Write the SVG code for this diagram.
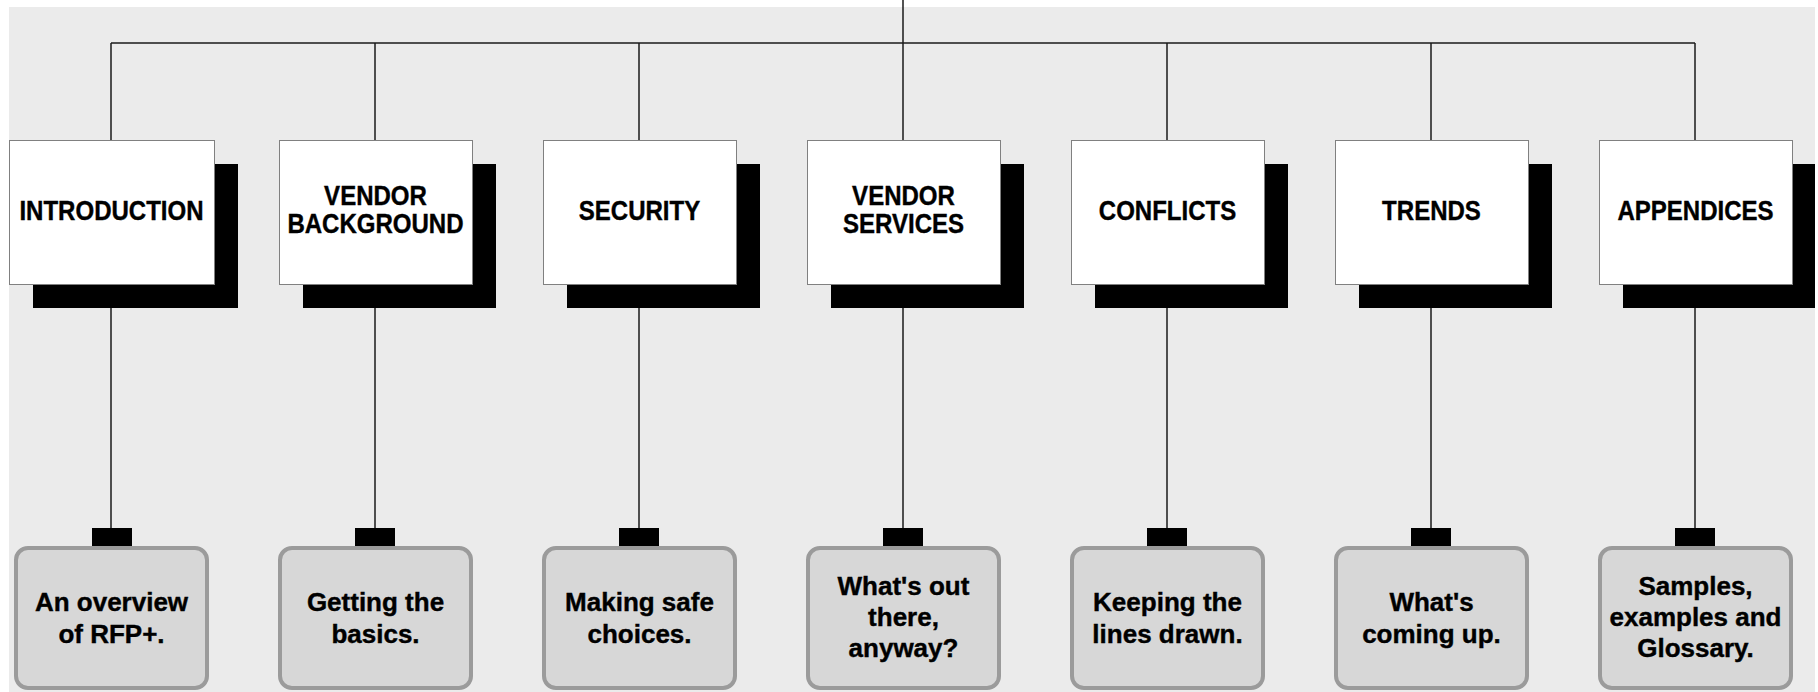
<svg xmlns="http://www.w3.org/2000/svg" width="1818" height="692" viewBox="0 0 1818 692">
<style>
.bg{fill:#ebebeb}
.shadow{fill:#000}
.top{fill:#fff;stroke:#808080;stroke-width:1}
.bot{fill:#d7d7d7;stroke:#9b9b9b;stroke-width:4}
.tab{fill:#000}
.conn{stroke:#1a1a1a;stroke-width:1.5;fill:none}
.tt{font-family:"Liberation Sans",Arial,Helvetica,sans-serif;font-weight:bold;font-size:27px;fill:#000;stroke:#000;stroke-width:0.4;text-anchor:middle}
.bt{font-family:"Liberation Sans",Arial,Helvetica,sans-serif;font-weight:bold;font-size:26px;fill:#000;stroke:#000;stroke-width:0.4;text-anchor:middle}
</style>
<rect class="bg" x="9" y="7" width="1806" height="685"/>
<g id="connectors">
<line class="conn" x1="903" y1="0" x2="903" y2="43"/>
<line class="conn" x1="111" y1="43" x2="1695" y2="43"/>
<line class="conn" x1="111" y1="43" x2="111" y2="528"/>
<line class="conn" x1="375" y1="43" x2="375" y2="528"/>
<line class="conn" x1="639" y1="43" x2="639" y2="528"/>
<line class="conn" x1="903" y1="43" x2="903" y2="528"/>
<line class="conn" x1="1167" y1="43" x2="1167" y2="528"/>
<line class="conn" x1="1431" y1="43" x2="1431" y2="528"/>
<line class="conn" x1="1695" y1="43" x2="1695" y2="528"/>
</g>
<g id="introduction">
<rect class="shadow" x="33" y="164" width="205" height="144"/>
<rect class="top" x="9.5" y="140.5" width="205" height="144"/>
<text class="tt" transform="translate(111.5,220) scale(0.89,1)">INTRODUCTION</text>
</g>
<g id="vendor-background">
<rect class="shadow" x="303" y="164" width="193" height="144"/>
<rect class="top" x="279.5" y="140.5" width="193" height="144"/>
<text class="tt" transform="translate(375.5,205) scale(0.89,1)">VENDOR</text>
<text class="tt" transform="translate(375.5,233) scale(0.89,1)">BACKGROUND</text>
</g>
<g id="security">
<rect class="shadow" x="567" y="164" width="193" height="144"/>
<rect class="top" x="543.5" y="140.5" width="193" height="144"/>
<text class="tt" transform="translate(639.5,220) scale(0.89,1)">SECURITY</text>
</g>
<g id="vendor-services">
<rect class="shadow" x="831" y="164" width="193" height="144"/>
<rect class="top" x="807.5" y="140.5" width="193" height="144"/>
<text class="tt" transform="translate(903.5,205) scale(0.89,1)">VENDOR</text>
<text class="tt" transform="translate(903.5,233) scale(0.89,1)">SERVICES</text>
</g>
<g id="conflicts">
<rect class="shadow" x="1095" y="164" width="193" height="144"/>
<rect class="top" x="1071.5" y="140.5" width="193" height="144"/>
<text class="tt" transform="translate(1167.5,220) scale(0.89,1)">CONFLICTS</text>
</g>
<g id="trends">
<rect class="shadow" x="1359" y="164" width="193" height="144"/>
<rect class="top" x="1335.5" y="140.5" width="193" height="144"/>
<text class="tt" transform="translate(1431.5,220) scale(0.89,1)">TRENDS</text>
</g>
<g id="appendices">
<rect class="shadow" x="1623" y="164" width="192" height="144"/>
<rect class="top" x="1599.5" y="140.5" width="193" height="144"/>
<text class="tt" transform="translate(1695.5,220) scale(0.89,1)">APPENDICES</text>
</g>
<g id="overview">
<rect class="tab" x="92" y="528" width="40" height="18"/>
<rect class="bot" x="16" y="548" width="191" height="140" rx="12"/>
<text class="bt" x="111.5" y="611">An overview</text>
<text class="bt" x="111.5" y="643">of RFP+.</text>
</g>
<g id="basics">
<rect class="tab" x="355" y="528" width="40" height="18"/>
<rect class="bot" x="280" y="548" width="191" height="140" rx="12"/>
<text class="bt" x="375.5" y="611">Getting the</text>
<text class="bt" x="375.5" y="643">basics.</text>
</g>
<g id="safe-choices">
<rect class="tab" x="619" y="528" width="40" height="18"/>
<rect class="bot" x="544" y="548" width="191" height="140" rx="12"/>
<text class="bt" x="639.5" y="611">Making safe</text>
<text class="bt" x="639.5" y="643">choices.</text>
</g>
<g id="out-there">
<rect class="tab" x="883" y="528" width="40" height="18"/>
<rect class="bot" x="808" y="548" width="191" height="140" rx="12"/>
<text class="bt" x="903.5" y="595">What's out</text>
<text class="bt" x="903.5" y="626">there,</text>
<text class="bt" x="903.5" y="657">anyway?</text>
</g>
<g id="lines-drawn">
<rect class="tab" x="1147" y="528" width="40" height="18"/>
<rect class="bot" x="1072" y="548" width="191" height="140" rx="12"/>
<text class="bt" x="1167.5" y="611">Keeping the</text>
<text class="bt" x="1167.5" y="643">lines drawn.</text>
</g>
<g id="coming-up">
<rect class="tab" x="1411" y="528" width="40" height="18"/>
<rect class="bot" x="1336" y="548" width="191" height="140" rx="12"/>
<text class="bt" x="1431.5" y="611">What's</text>
<text class="bt" x="1431.5" y="643">coming up.</text>
</g>
<g id="samples">
<rect class="tab" x="1675" y="528" width="40" height="18"/>
<rect class="bot" x="1600" y="548" width="191" height="140" rx="12"/>
<text class="bt" x="1695.5" y="595">Samples,</text>
<text class="bt" x="1695.5" y="626">examples and</text>
<text class="bt" x="1695.5" y="657">Glossary.</text>
</g>
</svg>
